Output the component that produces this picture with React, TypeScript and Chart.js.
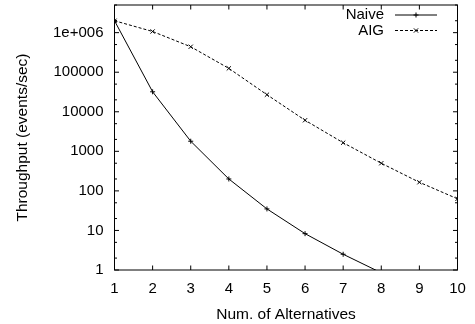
import React, { useEffect, useRef } from "react";
import { Chart, registerables } from "chart.js";

Chart.register(...registerables);

const alternatives = [1, 2, 3, 4, 5, 6, 7, 8, 9, 10];
const naiveValues = [2.0e6, 32000, 1800, 200, 35, 8.3, 2.5, 0.85];
const aigValues = [2.0e6, 1.07e6, 4.4e5, 1.25e5, 27000, 6100, 1650, 500, 165, 63];
const yMajorTicks = [1, 10, 100, 1000, 10000, 100000, 1000000];
const yTickLabels = ["1", "10", "100", "1000", "10000", "100000", "1e+006"];
const yMinorFactors = [2, 5];
const seriesNames = ["Naive", "AIG"];

const FONT = "'Liberation Sans', Arial, Helvetica, sans-serif";
const FS = 15;
const TFS = 15.5;

const framePlugin = {
  id: "gnuFrame",
  afterDraw(chart: any) {
    const { ctx, chartArea: a, scales } = chart;
    const xs = scales.x;
    const ys = scales.y;
    ctx.save();
    ctx.strokeStyle = "#000";
    ctx.lineWidth = 1;
    ctx.setLineDash([]);
    ctx.beginPath();
    alternatives.forEach((v) => {
      const px = xs.getPixelForValue(v);
      ctx.moveTo(px, a.bottom);
      ctx.lineTo(px, a.bottom - 4.5);
      ctx.moveTo(px, a.top);
      ctx.lineTo(px, a.top + 4.5);
    });
    yMajorTicks.forEach((v) => {
      const py = ys.getPixelForValue(v);
      ctx.moveTo(a.left, py);
      ctx.lineTo(a.left + 4.5, py);
      ctx.moveTo(a.right, py);
      ctx.lineTo(a.right - 4.5, py);
      yMinorFactors.forEach((f) => {
        const mv = v * f;
        if (mv <= ys.max) {
          const mp = ys.getPixelForValue(mv);
          ctx.moveTo(a.left, mp);
          ctx.lineTo(a.left + 2.5, mp);
          ctx.moveTo(a.right, mp);
          ctx.lineTo(a.right - 2.5, mp);
        }
      });
    });
    ctx.stroke();
    ctx.strokeRect(a.left, a.top, a.right - a.left, a.bottom - a.top);

    ctx.font = `${FS}px ${FONT}`;
    ctx.fillStyle = "#000";
    ctx.textAlign = "right";
    ctx.textBaseline = "middle";
    const rows = [15, 30.5];
    const x0 = 395;
    const x1 = 437;
    chart.data.datasets.forEach((ds: any, i: number) => {
      const y = rows[i];
      ctx.fillText(seriesNames[i], 384, y);
      ctx.beginPath();
      ctx.setLineDash(ds.borderDash || []);
      ctx.moveTo(x0, y);
      ctx.lineTo(x1, y);
      ctx.stroke();
      ctx.setLineDash([]);
      const cx = (x0 + x1) / 2;
      const r = ds.pointRadius;
      ctx.beginPath();
      if (ds.pointStyle === "crossRot") {
        const d = r * Math.SQRT1_2;
        ctx.moveTo(cx - d, y - d);
        ctx.lineTo(cx + d, y + d);
        ctx.moveTo(cx - d, y + d);
        ctx.lineTo(cx + d, y - d);
      } else {
        ctx.moveTo(cx - r, y);
        ctx.lineTo(cx + r, y);
        ctx.moveTo(cx, y - r);
        ctx.lineTo(cx, y + r);
      }
      ctx.stroke();
    });
    ctx.restore();
  },
};

export default function App() {
  const ref = useRef<HTMLCanvasElement>(null);
  useEffect(() => {
    document.body.style.margin = "0";
    const chart = new Chart(ref.current!, {
      type: "line",
      data: {
        datasets: [
          {
            label: seriesNames[0],
            data: naiveValues.map((v, i) => ({ x: alternatives[i], y: v })),
            borderColor: "#000",
            backgroundColor: "#000",
            borderWidth: 1,
            pointStyle: "cross",
            pointRadius: 2.5,
            pointBorderWidth: 1,
            fill: false,
            tension: 0,
          },
          {
            label: seriesNames[1],
            data: aigValues.map((v, i) => ({ x: alternatives[i], y: v })),
            borderColor: "#000",
            backgroundColor: "#000",
            borderWidth: 1,
            borderDash: [3, 2],
            pointStyle: "crossRot",
            pointRadius: 3,
            pointBorderWidth: 1,
            fill: false,
            tension: 0,
          },
        ],
      },
      options: {
        responsive: false,
        animation: false,
        layout: { padding: { top: 2, right: 17.5, bottom: 0, left: 0 } },
        plugins: {
          legend: { display: false },
          tooltip: { enabled: false },
        },
        scales: {
          x: {
            type: "linear",
            min: 1,
            max: 10,
            grid: { display: false, drawTicks: false },
            border: { display: false },
            ticks: {
              stepSize: 1,
              color: "#000",
              padding: 9.5,
              font: { family: FONT, size: FS },
            },
            title: {
              display: true,
              text: "Num. of Alternatives",
              color: "#000",
              font: { family: FONT, size: TFS },
              padding: { top: 0, bottom: 0 },
            },
            afterFit: (s: any) => {
              s.height = 54;
              s.paddingLeft = 0;
              s.paddingRight = 0;
            },
          },
          y: {
            type: "logarithmic",
            min: 1,
            max: 5e6,
            grid: { display: false, drawTicks: false },
            border: { display: false },
            afterBuildTicks: (s: any) => {
              s.ticks = yMajorTicks.map((v) => ({ value: v }));
            },
            ticks: {
              color: "#000",
              padding: 11,
              font: { family: FONT, size: FS },
              callback: (v: any) => {
                const i = yMajorTicks.indexOf(Number(v));
                return i >= 0 ? yTickLabels[i] : "";
              },
            },
            title: {
              display: true,
              text: "Throughput (events/sec)",
              color: "#000",
              font: { family: FONT, size: TFS },
              padding: { top: 13, bottom: 0 },
            },
            afterFit: (s: any) => {
              s.width = 114.5;
              s.paddingTop = 0;
              s.paddingBottom = 0;
            },
          },
        },
      },
      plugins: [framePlugin],
    } as any);
    return () => chart.destroy();
  }, []);
  return (
    <div style={{ width: 475, height: 324 }}>
      <canvas ref={ref} width={475} height={324} />
    </div>
  );
}
